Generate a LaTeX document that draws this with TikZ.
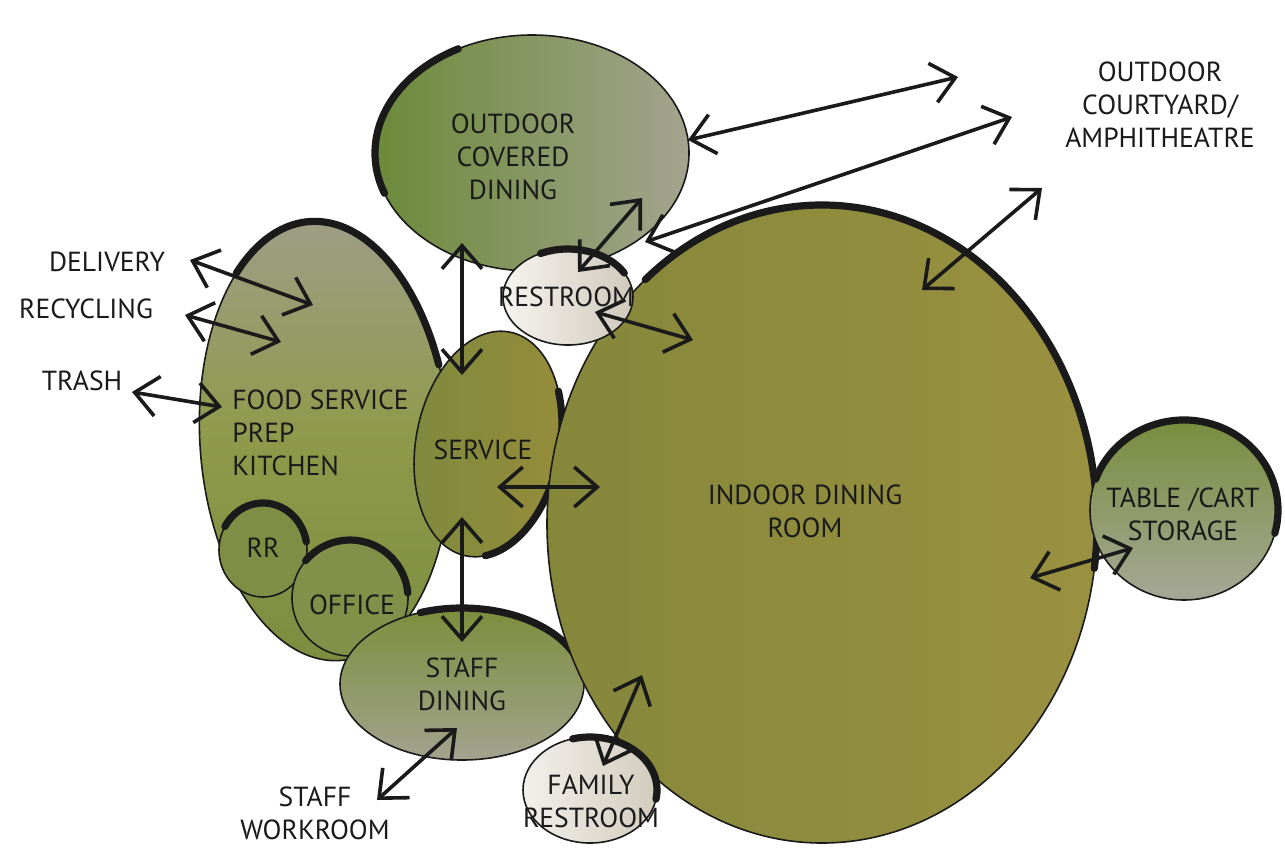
\documentclass[tikz,border=0pt]{standalone}
\usepackage{fontspec}
\setmainfont{PT Sans}
\usetikzlibrary{arrows.meta,shapes.geometric}
\definecolor{cInk}{HTML}{1A1A1A}
\begin{document}
\begin{tikzpicture}[x=0.5pt,y=-0.5pt,
  room/.style={ellipse, draw=cInk, line width=0.8pt, inner sep=0pt, outer sep=0pt},
  rim/.style={draw=cInk, line width=3.6pt, line cap=round},
  lbl/.style={font=\fontsize{13.8}{16.5}\selectfont, align=center, text=cInk, inner sep=0pt},
  conn/.style={draw=cInk, line width=1.8pt, {Straight Barb[length=11.5pt,width=20pt]}-{Straight Barb[length=11.5pt,width=20pt]}}]

\useasboundingbox[fill=white] (0,0) rectangle (1285,847);

% ---------- rooms ----------
\node[room, minimum width=157pt, minimum height=118pt, left color={rgb,255:red,108;green,138;blue,58}, right color={rgb,255:red,163;green,164;blue,142}] (covered) at (532,153) {};
\draw[rim] (covered.center) ++(200:78.5pt and 59pt) arc[start angle=200, end angle=118, x radius=78.5pt, y radius=59pt];

\node[room, rotate=4, minimum width=125pt, minimum height=220pt, top color={rgb,255:red,158;green,158;blue,134}, bottom color={rgb,255:red,125;green,140;blue,64}, middle color={rgb,255:red,142;green,154;blue,74}] (kitchen) at (325,441) {};
\begin{scope}[rotate around={4:(kitchen.center)}]
\draw[rim] (kitchen.center) ++(128:62.5pt and 110pt) arc[start angle=128, end angle=18, x radius=62.5pt, y radius=110pt];
\end{scope}

\node[room, minimum width=44pt, minimum height=47pt, fill={rgb,255:red,127;green,142;blue,68}] (rr) at (263,550) {};
\draw[rim] (rr.center) ++(150:22pt and 23.5pt) arc[start angle=150, end angle=10, x radius=22pt, y radius=23.5pt];

\node[room, minimum width=58pt, minimum height=58pt, fill={rgb,255:red,130;green,144;blue,74}] (office) at (350,598) {};
\draw[rim] (office.center) ++(140:29pt and 29pt) arc[start angle=140, end angle=5, x radius=29pt, y radius=29pt];

\node[room, rotate=-11, minimum width=72pt, minimum height=114pt, left color={rgb,255:red,126;green,138;blue,62}, right color={rgb,255:red,150;green,140;blue,58}] (service) at (488,444) {};
\begin{scope}[rotate around={-11:(service.center)}]
\draw[rim] (service.center) ++(35:36pt and 57pt) arc[start angle=35, end angle=-75, x radius=36pt, y radius=57pt];
\end{scope}

\node[room, minimum width=122pt, minimum height=76pt, top color={rgb,255:red,124;green,142;blue,60}, bottom color={rgb,255:red,162;green,163;blue,142}] (staff) at (462,684) {};
\draw[rim] (staff.center) ++(110:61pt and 38pt) arc[start angle=110, end angle=15, x radius=61pt, y radius=38pt];

\node[room, minimum width=275pt, minimum height=319pt, left color={rgb,255:red,133;green,135;blue,59}, right color={rgb,255:red,154;green,145;blue,64}] (indoor) at (822,524) {};
\draw[rim] (indoor.center) ++(130:137.5pt and 159.5pt) arc[start angle=130, end angle=-8, x radius=137.5pt, y radius=159.5pt];

\node[room, minimum width=65pt, minimum height=48pt, left color={rgb,255:red,246;green,244;blue,240}, right color={rgb,255:red,207;green,201;blue,187}] (restroom) at (568,297) {};
\draw[rim] (restroom.center) ++(115:32.5pt and 24pt) arc[start angle=115, end angle=30, x radius=32.5pt, y radius=24pt];

\node[room, minimum width=67pt, minimum height=53pt, left color={rgb,255:red,242;green,240;blue,236}, right color={rgb,255:red,210;green,204;blue,189}] (family) at (590,790) {};
\draw[rim] (family.center) ++(105:33.5pt and 26.5pt) arc[start angle=105, end angle=-10, x radius=33.5pt, y radius=26.5pt];

\node[room, minimum width=94pt, minimum height=90pt, top color={rgb,255:red,120;green,141;blue,62}, bottom color={rgb,255:red,166;green,168;blue,150}] (storage) at (1184,510) {};
\draw[rim] (storage.center) ++(160:47pt and 45pt) arc[start angle=160, end angle=-15, x radius=47pt, y radius=45pt];

% ---------- labels ----------
\node[lbl] (tcovered) at (513,157) {OUTDOOR\\COVERED\\DINING};
\node[lbl] (trestroom) at (566,297) {RESTROOM};
\node[lbl, align=left, anchor=west] (tkitchen) at (232,433) {FOOD SERVICE\\PREP\\KITCHEN};
\node[lbl] (tservice) at (483,450) {SERVICE};
\node[lbl] (trr) at (263,548) {RR};
\node[lbl] (toffice) at (352,605) {OFFICE};
\node[lbl] (tstaff) at (462,684) {STAFF\\DINING};
\node[lbl] (tindoor) at (805,511) {INDOOR DINING\\ROOM};
\node[lbl] (tstorage) at (1183,514) {TABLE /CART\\STORAGE};
\node[lbl] (tfamily) at (591,801) {FAMILY\\RESTROOM};
\node[lbl] (tcourt) at (1160,105) {OUTDOOR\\COURTYARD/\\AMPHITHEATRE};
\node[lbl] (tdelivery) at (107,262) {DELIVERY};
\node[lbl] (trecycling) at (86,309) {RECYCLING};
\node[lbl] (ttrash) at (82,381) {TRASH};
\node[lbl] (tworkroom) at (315,813) {STAFF\\WORKROOM};

% ---------- connector ends ----------
\coordinate (dA) at (190,260); \coordinate (dB) at (313,305);
\coordinate (rA) at (185,315); \coordinate (rB) at (281,342);
\coordinate (tA) at (132,392); \coordinate (tB) at (222,407);
\coordinate (c1A) at (688,140); \coordinate (c1B) at (958,77);
\coordinate (c2A) at (645,242); \coordinate (c2B) at (1012,117);
\coordinate (c3A) at (1042,188); \coordinate (c3B) at (922,290);
\coordinate (orA) at (642,198); \coordinate (orB) at (578,272);
\coordinate (riA) at (595,312); \coordinate (riB) at (693,340);
\coordinate (svA) at (462,243); \coordinate (svB) at (462,375);
\coordinate (ssA) at (462,517); \coordinate (ssB) at (462,642);
\coordinate (siA) at (497,487); \coordinate (siB) at (600,487);
\coordinate (stA) at (1030,578); \coordinate (stB) at (1133,548);
\coordinate (swA) at (457,728); \coordinate (swB) at (377,800);
\coordinate (fiA) at (603,766); \coordinate (fiB) at (642,675);

% ---------- connectors ----------
\draw[conn] (dA) -- (dB);
\draw[conn] (rA) -- (rB);
\draw[conn] (tA) -- (tB);
\draw[conn] (c1A) -- (c1B);
\draw[conn] (c2A) -- (c2B);
\draw[conn] (c3A) -- (c3B);
\draw[conn] (orA) -- (orB);
\draw[conn] (riA) -- (riB);
\draw[conn] (svA) -- (svB);
\draw[conn] (ssA) -- (ssB);
\draw[conn] (siA) -- (siB);
\draw[conn] (stA) -- (stB);
\draw[conn] (swA) -- (swB);
\draw[conn] (fiA) -- (fiB);
\end{tikzpicture}
\end{document}
